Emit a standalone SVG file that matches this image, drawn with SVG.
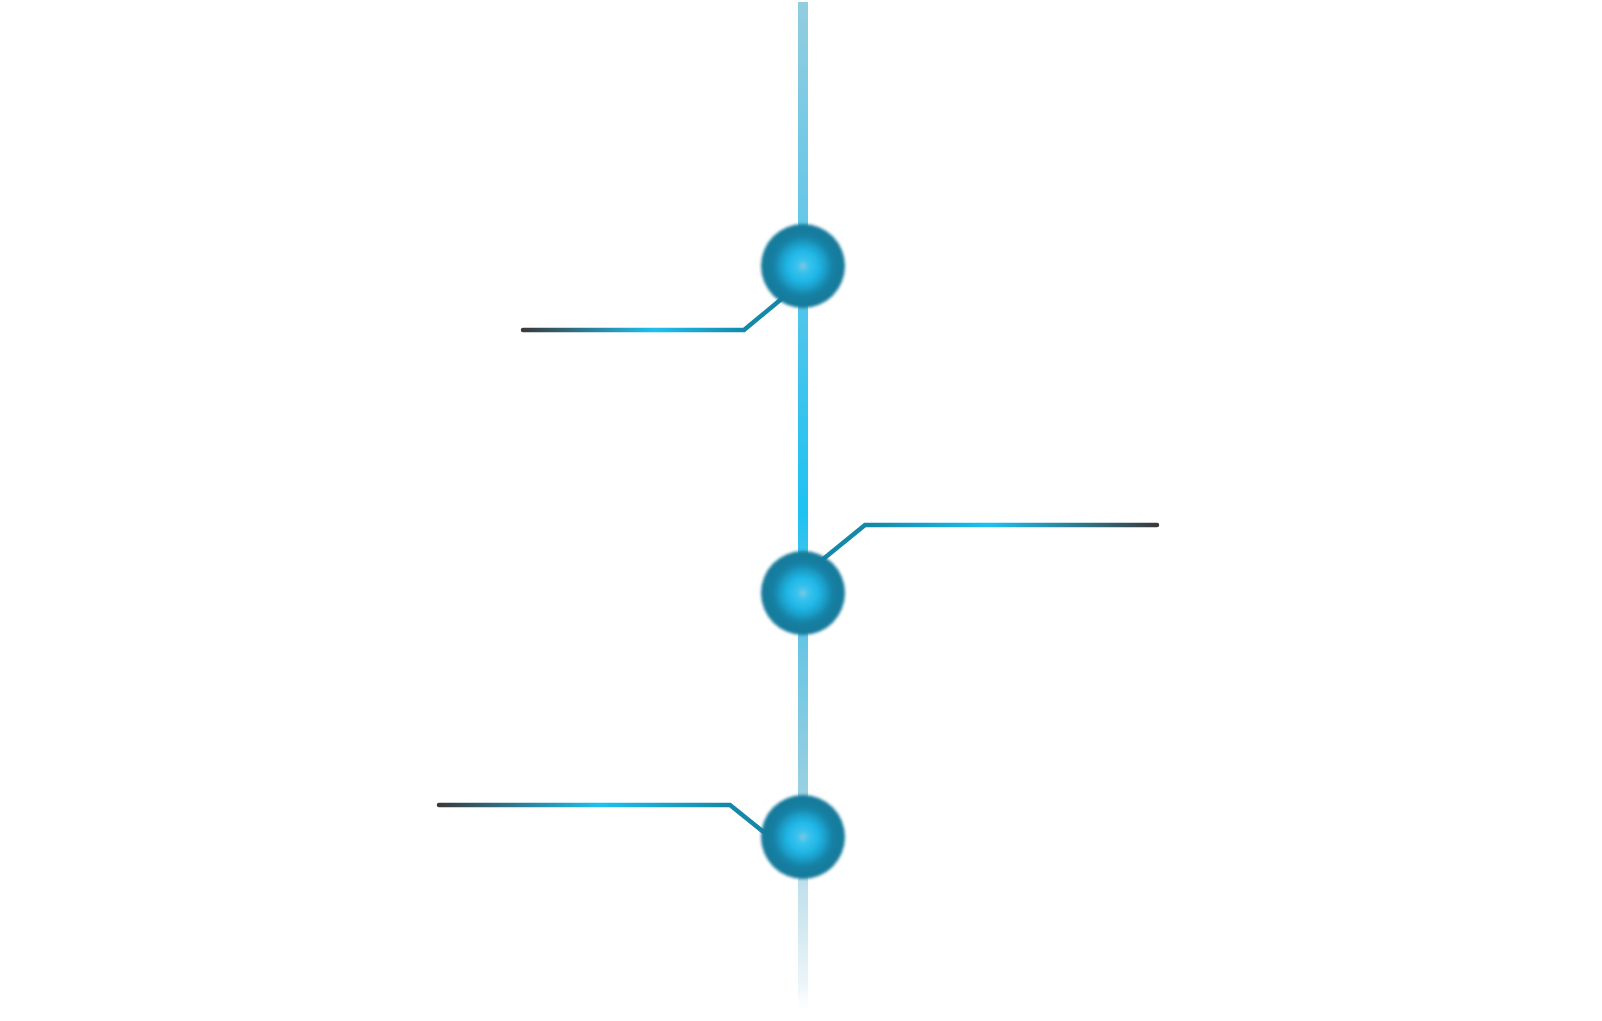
<svg xmlns="http://www.w3.org/2000/svg" width="1602" height="1021" viewBox="0 0 1602 1021">
<defs>
<style>
.lead{fill:none;stroke-width:4.5;stroke-linecap:round;stroke-linejoin:miter}
.ball{filter:url(#soft)}
</style>
<linearGradient id="spine" gradientUnits="userSpaceOnUse" x1="0" y1="2" x2="0" y2="1018">
<stop offset="0" stop-color="#92cde0"/>
<stop offset="0.26" stop-color="#5cc6e8"/>
<stop offset="0.5" stop-color="#1ec2f2"/>
<stop offset="0.64" stop-color="#6cc6e2"/>
<stop offset="0.78" stop-color="#9ad0e2"/>
<stop offset="0.9" stop-color="#cde6ef"/>
<stop offset="0.97" stop-color="#eef6f9"/>
<stop offset="1" stop-color="#ffffff" stop-opacity="0"/>
</linearGradient>
<radialGradient id="ballFill" cx="0.5" cy="0.5" r="0.5">
<stop offset="0" stop-color="#8cc6d6"/>
<stop offset="0.12" stop-color="#3cc4ee"/>
<stop offset="0.38" stop-color="#1fb6e6"/>
<stop offset="0.72" stop-color="#167fa2"/>
<stop offset="1" stop-color="#17799a"/>
</radialGradient>
<filter id="soft" x="-20%" y="-20%" width="140%" height="140%">
<feGaussianBlur stdDeviation="1.8"/>
</filter>
<linearGradient id="lead1" gradientUnits="userSpaceOnUse" x1="523" y1="0" x2="785" y2="0">
<stop offset="0" stop-color="#3a3a3a"/>
<stop offset="0.5" stop-color="#1ec0f0"/>
<stop offset="0.85" stop-color="#1488a8"/>
<stop offset="1" stop-color="#1488a8"/>
</linearGradient>
<linearGradient id="lead2" gradientUnits="userSpaceOnUse" x1="822" y1="0" x2="1157" y2="0">
<stop offset="0" stop-color="#1488a8"/>
<stop offset="0.15" stop-color="#1488a8"/>
<stop offset="0.5" stop-color="#1ec0f0"/>
<stop offset="1" stop-color="#3a3a3a"/>
</linearGradient>
<linearGradient id="lead3" gradientUnits="userSpaceOnUse" x1="439" y1="0" x2="766" y2="0">
<stop offset="0" stop-color="#3a3a3a"/>
<stop offset="0.49" stop-color="#1ec0f0"/>
<stop offset="0.88" stop-color="#1488a8"/>
<stop offset="1" stop-color="#1488a8"/>
</linearGradient>
</defs>
<rect width="1602" height="1021" fill="#ffffff"/>
<g id="connectors">
<rect id="spine-bar" x="798" y="2" width="10" height="1016" fill="url(#spine)"/>
<polyline class="lead" stroke="url(#lead1)" points="523,330 744,330 785,296"/>
<polyline class="lead" stroke="url(#lead2)" points="1157,525 865,525 822,560"/>
<polyline class="lead" stroke="url(#lead3)" points="439,805 730,805 766,834"/>
</g>
<g id="node1"><circle class="ball" cx="803" cy="266" r="42" fill="url(#ballFill)"/></g>
<g id="node2"><circle class="ball" cx="803" cy="593" r="42" fill="url(#ballFill)"/></g>
<g id="node3"><circle class="ball" cx="803" cy="837" r="42" fill="url(#ballFill)"/></g>
</svg>
